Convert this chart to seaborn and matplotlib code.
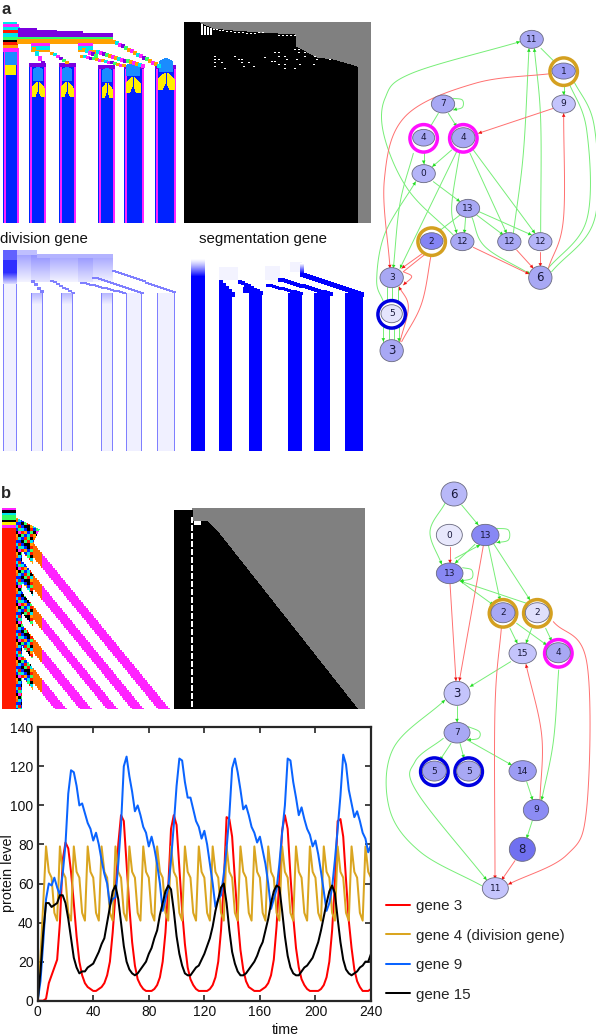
"""
plot.py - developmental simulation figure: lineage rasters, gene networks, protein levels
"""

import numpy as np
import pandas as pd
import matplotlib
matplotlib.use("Agg")
import matplotlib.pyplot as plt
from matplotlib.colors import ListedColormap, LinearSegmentedColormap
from matplotlib.patches import Ellipse, Polygon
import seaborn as sns

W, H = 596, 1035

# ─── Protein levels (sampled every 2 time units) ──────────────────────────────

TIME = list(range(0, 242, 2))
GENE_3 = [0, 0, 0, 1, 9, 13, 17, 21, 40, 72, 81, 78, 66, 50, 33, 20, 13, 9, 7, 6,
          5, 5, 6, 7, 9, 13, 20, 35, 55, 80, 95, 92, 70, 48, 30, 18, 11, 8, 6, 5,
          5, 5, 6, 8, 12, 20, 35, 58, 88, 95, 90, 68, 46, 29, 17, 11, 8, 6, 5, 5,
          5, 5, 6, 8, 12, 20, 36, 60, 94, 93, 84, 62, 42, 26, 16, 10, 7, 6, 5, 5,
          5, 6, 7, 9, 13, 21, 38, 62, 87, 95, 88, 64, 43, 27, 17, 11, 8, 6, 5, 5,
          5, 5, 6, 8, 12, 20, 36, 60, 92, 93, 84, 62, 41, 27, 16, 10, 7, 5, 5, 5, 6]
GENE_4 = [0, 22, 50, 79, 66, 63, 45, 41] + [
    79, 66, 63, 45, 41, 79, 66, 63, 45, 41, 79, 66, 63, 45, 41, 79, 66, 63, 45, 41,
    79, 66, 63, 45, 41, 79, 66, 63, 45, 41, 79, 66, 63, 45, 41, 79, 66, 63, 45, 41,
    79, 66, 63, 45, 41, 79, 66, 63, 45, 41, 79, 66, 63, 45, 41, 79, 66, 63, 45, 41,
    79, 66, 63, 45, 41, 79, 66, 63, 45, 41, 79, 66, 63, 45, 41, 79, 66, 63, 45, 41,
    79, 66, 63, 45, 41, 79, 66, 63, 45, 41, 79, 66, 63, 45, 41, 79, 66, 63, 45, 41,
    79, 66, 63, 45, 41, 79, 66, 63, 45, 41, 79, 66, 63]
GENE_9 = [0, 10, 30, 52, 60, 59, 63, 58, 54, 65, 80, 106, 118, 117, 110, 100, 101, 96, 91, 88,
          82, 86, 80, 72, 65, 60, 49, 52, 53, 70, 90, 120, 125, 115, 107, 97, 100, 95, 89, 86,
          79, 84, 78, 70, 60, 46, 52, 58, 72, 90, 110, 124, 123, 112, 104, 104, 98, 92, 89, 83,
          87, 80, 70, 60, 48, 52, 54, 65, 78, 95, 119, 124, 117, 108, 98, 100, 95, 89, 86, 81,
          84, 77, 70, 60, 47, 52, 57, 70, 86, 100, 124, 123, 112, 104, 95, 99, 93, 88, 85, 79,
          82, 75, 66, 56, 46, 50, 58, 72, 88, 105, 126, 121, 108, 101, 94, 97, 92, 86, 83, 76, 80]
GENE_15 = [0, 15, 35, 50, 50, 48, 49, 50, 54, 54, 50, 42, 32, 22, 17, 14, 15, 15, 17, 18,
           19, 22, 25, 29, 32, 40, 48, 56, 59, 52, 40, 28, 20, 16, 14, 13, 14, 16, 18, 20,
           24, 27, 32, 36, 44, 50, 56, 59, 57, 46, 33, 24, 18, 14, 13, 13, 15, 17, 18, 21,
           24, 28, 32, 38, 46, 52, 58, 60, 50, 36, 25, 19, 15, 13, 13, 14, 16, 18, 20, 23,
           27, 30, 36, 42, 50, 56, 59, 58, 46, 33, 23, 17, 14, 13, 13, 15, 17, 18, 20, 22,
           26, 30, 36, 43, 50, 56, 59, 55, 42, 30, 21, 16, 14, 13, 14, 15, 17, 18, 20, 20, 24]
GENE_NAMES = ["gene 3", "gene 4 (division gene)", "gene 9", "gene 15"]
GENE_COLORS = ["#ff0000", "#daa520", "#0a64ff", "#000000"]
X_TICKS = [0, 40, 80, 120, 160, 200, 240]
Y_TICKS = [0, 20, 40, 60, 80, 100, 120, 140]

# ─── Panel a, lineage rasters (picture pixels) ────────────────────────────────

# left, right of the cell columns in the top-left raster
A_COLUMNS = [(3, 19), (29, 46), (59, 76), (98, 115), (124, 144), (155, 176)]
A_COLUMN_TOPS = [48, 63, 63, 65, 65, 65]
# centre, top, bottom, half width of the yellow arches
A_ARCHES = [(38, 82, 97, 6), (67, 82, 97, 6), (107, 83, 98, 5), (133, 77, 93, 7), (166, 73, 90, 8)]
# top stack: y0, y1, x1, colour index
A_STACK = [(22, 24, 17, 5), (24, 27, 19, 2), (27, 30, 20, 5), (30, 33, 19, 9), (33, 37, 18, 5),
           (37, 40, 18, 8), (40, 42, 18, 10), (42, 45, 18, 9), (45, 48, 18, 7)]
# purple steps: x0, x1, y0
A_STEPS = [(18, 37, 28), (37, 57, 30), (57, 83, 31), (83, 113, 33)]
# start and end of the diagonal tracts: x0, y0, x1, y1, thickness
A_TRACTS = [(112, 40, 158, 65, 4), (93, 50, 143, 65, 4), (80, 55, 123, 65, 3), (50, 52, 68, 63, 3),
            (32, 47, 42, 63, 5), (82, 48, 95, 55, 4)]
A_TRACT_COLORS = [7, 5, 2, 6, 8, 7, 2]
# x of the dots in the grey/black raster, with their y
A_DOTS_X = [214, 214, 214, 214, 218, 221, 224, 234, 238, 241, 241, 243, 248, 253, 264, 271, 274, 274,
            278, 278, 278, 284, 284, 284, 286, 294, 296, 299, 313, 294, 298, 298, 304, 304, 314, 316, 329]
A_DOTS_Y = [56, 59, 62, 66, 59, 62, 68, 56, 59, 59, 62, 66, 62, 66, 57, 61, 61, 52,
            52, 56, 64, 56, 64, 68, 59, 68, 59, 64, 64, 49, 49, 52, 52, 56, 56, 59, 59]
A_EDGE_X = [184, 200, 201, 213, 233, 260, 295, 296, 307, 317, 333, 357, 358, 371]
A_EDGE_Y = [23, 23, 24, 29, 31, 33, 35, 47, 53, 58, 60, 67, 224, 224]
A_BARS_X = [201, 204, 207, 210, 213, 216, 219, 222, 226, 230, 234, 238, 242, 246, 250, 254, 258, 262,
            278, 282, 286, 290, 294]
A_BARS_Y = [24, 26, 27, 28, 29, 29, 30, 30, 31, 31, 32, 32, 32, 33, 33, 33, 32, 32,
            35, 35, 35, 35, 35]

DIV_COLUMNS = [(3, 17), (31, 43), (61, 73), (101, 113), (126, 142), (157, 175)]
SEG_COLUMNS = [(191, 205), (219, 232), (249, 262), (288, 302), (314, 330), (345, 363)]
# x0, y0, x1, y1, thickness of the expression tracts
DIV_TRACTS = [(112, 270, 175, 293, 2), (92, 277, 142, 293, 2), (80, 282, 125, 293, 2), (50, 280, 72, 293, 2),
              (31, 280, 42, 293, 3)]
SEG_TRACTS = [(300, 272, 363, 293, 5), (278, 278, 330, 293, 4), (266, 284, 302, 293, 3), (238, 280, 262, 293, 4),
              (219, 280, 232, 293, 5)]
# left, right, y at the left, y at the right of the slanted column tops
SEG_WEDGES = [(219, 232, 283, 293), (243, 262, 287, 293)]
SEG_PALE = [(219, 238, 267, 280), (265, 280, 266, 280), (290, 302, 262, 272)]

# ─── Panel b rasters ──────────────────────────────────────────────────────────

B_STACK = [(508, 510, 16, 2), (510, 513, 16, 10), (513, 515, 16, 5), (515, 520, 16, 8),
           (520, 522, 16, 10), (522, 525, 16, 4), (525, 528, 16, 2)]
# x at the bottom edge of the magenta bands
B_BAND_LEFT = [55, 80, 107, 132, 158]
B_BAND_RIGHT = [67, 92, 118, 144, 170]
B_TILE = [[1, 10, 8, 9, 5, 1],
          [9, 1, 10, 10, 7, 5],
          [8, 5, 1, 10, 9, 1],
          [2, 9, 7, 1, 8, 10],
          [10, 8, 1, 5, 9, 7],
          [5, 1, 9, 8, 10, 11]]
B_EDGE_X = [174, 192, 193, 207, 220, 358, 366]
B_EDGE_Y = [510, 510, 521, 521, 535, 710, 710]

# ─── Networks (coordinates of the two network drawings) ───────────────────────

A_NODE_LABELS = ["11", "1", "9", "7", "4", "4", "0", "13", "2", "12", "12", "12", "3", "6", "5", "3"]
A_NODE_X = [470, 566, 566, 204, 146, 265, 146, 279, 170, 262, 403, 496, 50, 496, 50, 50]
A_NODE_Y = [58, 155, 252, 252, 355, 355, 461, 565, 665, 665, 665, 665, 773, 773, 883, 992]
A_NODE_RX = [35, 35, 35, 35, 33, 35, 35, 35, 34, 35, 35, 35, 35, 35, 32, 35]
A_NODE_RY = [27, 24, 27, 27, 25, 30, 27, 27, 25, 27, 27, 27, 30, 35, 27, 33]
A_NODE_FILL = ["#a8a8f4", "#9c9cf4", "#c4c4fc", "#a8a8f4", "#a8a8f4", "#a8a8f4", "#b4b4f8", "#a8a8f4",
               "#8484f4", "#a8a8f4", "#a8a8f4", "#b4b4f8", "#a8a8f4", "#a8a8f4", "#e4e4fc", "#a8a8f4"]
A_RINGS = {1: "#d4a020", 4: "#ff10ff", 5: "#ff10ff", 8: "#d4a020", 14: "#0000e0"}
A_GREEN = [
    [(235, 645), (100, 510), (28, 350), (30, 235), (110, 160), (435, 65)],
    [(498, 85), (545, 132)], [(566, 180), (566, 225)],
    [(515, 750), (635, 600), (635, 330), (578, 180)],
    [(530, 755), (658, 600), (658, 320), (592, 175)],
    [(415, 640), (445, 400), (462, 85)], [(497, 640), (497, 300), (478, 85)],
    [(235, 235), (262, 240), (262, 262), (235, 270)],
    [(190, 280), (160, 330)], [(220, 280), (245, 320)], [(146, 385), (146, 432)],
    [(115, 400), (75, 550), (55, 745)], [(230, 390), (172, 440)], [(245, 395), (75, 745)],
    [(255, 390), (230, 560), (245, 640)], [(285, 400), (395, 640)], [(295, 390), (480, 640)],
    [(175, 485), (255, 545)], [(255, 585), (190, 635)], [(272, 590), (268, 640)],
    [(305, 585), (385, 645)], [(312, 575), (470, 645)], [(290, 590), (330, 680), (465, 762)],
    [(25, 845), (5, 780), (30, 640), (122, 485)],
    [(35, 800), (35, 855)], [(50, 800), (50, 855)], [(68, 800), (68, 855)],
    [(25, 915), (25, 965)], [(42, 965), (42, 915)], [(58, 965), (58, 915)], [(72, 915), (72, 965)],
]
A_RED = [
    [(535, 160), (300, 190), (90, 290), (28, 480), (45, 745)],
    [(535, 265), (310, 340)], [(150, 695), (80, 745)], [(85, 755), (160, 695)],
    [(85, 755), (110, 770), (85, 795)], [(80, 965), (140, 850), (170, 695)],
    [(75, 965), (100, 860), (72, 800)], [(295, 682), (462, 762)], [(425, 690), (475, 745)],
    [(496, 695), (496, 740)], [(520, 745), (565, 600), (566, 280)],
]

B_NODE_LABELS = ["6", "0", "13", "13", "2", "2", "15", "4", "3", "7", "5", "5", "14", "9", "8", "11"]
B_NODE_X = [222, 208, 316, 209, 369, 472, 428, 535, 231, 231, 163, 266, 428, 468, 427, 346]
B_NODE_Y = [57, 180, 180, 295, 415, 415, 535, 535, 655, 773, 890, 890, 888, 1005, 1123, 1240]
B_NODE_RX = [39, 39, 41, 40, 36, 36, 41, 36, 39, 39, 36, 36, 41, 38, 39, 39]
B_NODE_RY = [36, 32, 32, 31, 30, 30, 31, 30, 36, 31, 30, 30, 31, 32, 36, 32]
B_NODE_FILL = ["#b8b8f8", "#e8e8fc", "#8888f4", "#8888f4", "#a8a8f4", "#e0e0fc", "#c4c4fc", "#a8a8f4",
               "#c4c4fc", "#a8a8f4", "#a0a0f4", "#a8a8f4", "#9c9cf4", "#8c8cf4", "#7070f0", "#c4c4fc"]
B_RINGS = {4: "#d4a020", 5: "#d4a020", 7: "#ff10ff", 10: "#0000e0", 11: "#0000e0"}
B_GREEN = [
    [(195, 85), (150, 170), (185, 268)], [(245, 90), (295, 150)],
    [(350, 160), (385, 165), (385, 195), (350, 203)], [(285, 208), (225, 265)], [(225, 250), (300, 210)],
    [(248, 278), (275, 285), (275, 310), (240, 318)], [(250, 325), (340, 390)], [(440, 385), (240, 318)],
    [(325, 210), (360, 375)], [(340, 205), (450, 375)], [(390, 460), (412, 505)], [(455, 460), (438, 505)],
    [(410, 445), (500, 510)], [(497, 460), (515, 498)], [(392, 560), (270, 635)], [(231, 692), (231, 742)],
    [(265, 755), (298, 770), (295, 790), (262, 795)], [(213, 805), (180, 855)], [(240, 805), (252, 850)],
    [(262, 795), (395, 870)], [(190, 790), (105, 860), (110, 950), (320, 1215)], [(440, 920), (458, 975)],
    [(536, 585), (520, 800), (485, 975)], [(457, 1037), (440, 1090)],
    [(305, 1232), (120, 1130), (28, 1000), (40, 820), (195, 675)],
]
B_RED = [
    [(210, 215), (210, 265)], [(210, 325), (228, 618)], [(310, 212), (238, 618)],
    [(480, 975), (485, 780), (438, 568)], [(365, 448), (345, 700), (345, 1212)],
    [(520, 440), (620, 560), (620, 1000), (560, 1140), (385, 1228)], [(405, 1157), (365, 1215)],
]

RASTER_COLORS = ["#ffffff", "#0022ff", "#ff22ff", "#1a8cff", "#ffee00", "#00e5ee", "#7a00e0",
                 "#ffa000", "#33ff66", "#ff1a00", "#000000", "#ff6a00"]
MASK_COLORS = ["#000000", "#808080", "#ffffff"]


# ─── Helpers ──────────────────────────────────────────────────────────────────

def panel_axes(fig, x0, y0, x1, y1):
    """Axes placed by picture pixels, y measured from the top."""
    return fig.add_axes([x0 / W, 1 - y1 / H, (x1 - x0) / W, (y1 - y0) / H])


def draw_grid(fig, grid, box, cmap, vmax):
    ax = panel_axes(fig, *box)
    sns.heatmap(grid, ax=ax, cmap=cmap, vmin=0, vmax=vmax, cbar=False,
                xticklabels=False, yticklabels=False, rasterized=True)
    return ax


def paint_tract(grid, box, tract, colors, cell=3):
    """Stepped diagonal line painted on a grid, colours taken in turn."""
    x0, y0, x1, y1, thick = tract
    for i, x in enumerate(range(x0, x1, cell)):
        y = int(y0 + (x - x0) * (y1 - y0) / (x1 - x0))
        val = colors[i % len(colors)]
        grid[y - box[1]:y - box[1] + thick, x - box[0]:x - box[0] + cell + 1] = val


def lineage_a(box):
    grid = np.zeros((box[3] - box[1], box[2] - box[0]), dtype=int)
    ox, oy = box[0], box[1]

    for (x0, x1), top in zip(A_COLUMNS, A_COLUMN_TOPS):
        grid[top - oy:, x0 - ox:x1 - ox] = 1
        grid[top - oy:, x0 - ox + 1:x0 - ox + 3] = 2
        grid[top - oy:, x1 - ox - 2:x1 - ox] = 2
        grid[top - oy:top - oy + 4, x0 - ox:x1 - ox] = 6

    grid[48 - oy:52 - oy, 3 - ox:19 - ox] = 2
    grid[52 - oy:65 - oy, 5 - ox:17 - ox] = 3
    grid[65 - oy:75 - oy, 5 - ox:16 - ox] = 4

    for (x0, x1), (cx, top, bottom, hw) in zip(A_COLUMNS[1:], A_ARCHES):
        # lighter cap filling the column down to the arch
        for y in range(top - 15, top - 1):
            inner = min((y - top + 16) * 2, (x1 - x0) // 2 - 3)
            grid[y - oy, cx - inner - ox:cx + inner - ox] = 3
        h = bottom - top
        for y in range(top, bottom):
            t = (y - top) / h
            half = hw * min(1, t * 2.2 + 0.25)
            notch = hw * 0.4 * max(0, (t - 0.6) * 2.5)
            grid[y - oy, int(cx - half) - ox:int(cx + half) - ox + 1] = 4
            grid[y - oy, int(cx - notch) - ox:int(cx + notch) - ox + 1] = 1

    for y0, y1, x1, val in A_STACK:
        grid[y0 - oy:y1 - oy, 3 - ox:x1 - ox] = val
    for x0, x1, y0 in A_STEPS:
        grid[y0 - oy:37 - oy, x0 - ox:x1 - ox] = 6
    grid[37 - oy:39 - oy, 18 - ox:113 - ox] = 8
    grid[39 - oy:44 - oy, 17 - ox:113 - ox] = 7
    for x0, x1 in [(31, 50), (78, 93)]:
        grid[43 - oy:50 - oy, x0 - ox:x1 - ox] = 5
        grid[43 - oy:46 - oy, x0 - ox:x1 - ox] = 2
        grid[50 - oy:52 - oy, x0 - ox:x1 - ox] = 7

    for tract in A_TRACTS:
        paint_tract(grid, box, tract, A_TRACT_COLORS)
    return grid


def mask_a(box):
    grid = np.zeros((box[3] - box[1], box[2] - box[0]), dtype=int)
    cols = np.arange(box[0], box[2])
    tops = np.interp(cols, A_EDGE_X, A_EDGE_Y).astype(int)
    for i, top in enumerate(tops):
        grid[:max(top - box[1], 0), i] = 1
    grid[:1, :16] = 0
    for x, y in zip(A_DOTS_X, A_DOTS_Y):
        grid[y - box[1]:y - box[1] + 1, x - box[0]:x - box[0] + 2] = 2
    for x, y in zip(A_BARS_X, A_BARS_Y):
        bar = 35 if x < 213 else y + 1
        grid[y - box[1]:bar - box[1], x - box[0]:x - box[0] + 2] = 2
    return grid


def division_grid(box):
    grid = np.zeros((box[3] - box[1], box[2] - box[0]))
    ox, oy = box[0], box[1]
    for x0, x1 in DIV_COLUMNS:
        grid[293 - oy:, x0 - ox:x1 - ox] = 0.06
        grid[293 - oy:, x0 - ox:x0 - ox + 1] = 0.5
        grid[293 - oy:, x1 - ox - 1:x1 - ox] = 0.5
    # pale band of the growing tip, fading downwards
    for y in range(255, 282):
        fade = 0.32 * (1 - (y - 255) / 27) + 0.04
        grid[y - oy, 17 - ox:113 - ox] = fade
        grid[y - oy, 31 - ox:50 - ox] = fade + 0.06
        grid[y - oy, 78 - ox:93 - ox] = fade + 0.06
    grid[250 - oy:255 - oy, 17 - ox:37 - ox] = 0.25
    grid[254 - oy:258 - oy, 37 - ox:113 - ox] = 0.3
    # strong expression in the first column
    for y in range(250, 284):
        if y < 260:
            val = 0.62
        elif y < 272:
            val = 0.82
        else:
            val = 0.82 - 0.72 * (y - 272) / 12
        grid[y - oy, 3 - ox:17 - ox] = val
    grid[284 - oy:, 3 - ox:17 - ox] = 0.06
    grid[284 - oy:, 3 - ox] = 0.5
    grid[284 - oy:, 16 - ox] = 0.5
    for tract in DIV_TRACTS:
        paint_tract(grid, box, tract, [0.5])
    # caps at the top of the columns, fading into the column
    for x0, x1 in DIV_COLUMNS[1:4]:
        for y in range(293, 305):
            grid[y - oy, x0 - ox + 1:x1 - ox - 1] = 0.28 - 0.02 * (y - 293)
    return grid


def segmentation_grid(box):
    grid = np.zeros((box[3] - box[1], box[2] - box[0]))
    ox, oy = box[0], box[1]
    for x0, x1 in SEG_COLUMNS:
        grid[293 - oy:, x0 - ox:x1 - ox] = 1.0
    for y in range(258, 278):
        grid[y - oy, 191 - ox:205 - ox] = min(1.0, ((y - 258) / 18) ** 1.3)
    grid[278 - oy:, 191 - ox:205 - ox] = 1.0
    for x0, x1, y0, y1 in SEG_PALE:
        grid[y0 - oy:y1 - oy, x0 - ox:x1 - ox] = 0.05
    for tract in SEG_TRACTS:
        paint_tract(grid, box, tract, [1.0])
    for x0, x1, y0, y1 in SEG_WEDGES:
        for x in range(x0, x1):
            top = int(y0 + (x - x0) * (y1 - y0) / (x1 - x0))
            grid[top - oy:293 - oy, x - ox] = 1.0
    for y in range(263, 274):
        grid[y - oy, 300 - ox:304 - ox] = (y - 263) / 10
    return grid


def lineage_b(box):
    grid = np.zeros((box[3] - box[1], box[2] - box[0]), dtype=int)
    ox, oy = box[0], box[1]
    slope = 0.82
    for y in range(box[1], box[3]):
        ys = y - y % 2
        for x in range(box[0], box[2]):
            u = x + slope * (709 - ys)
            in_band = any(a <= u < b for a, b in zip(B_BAND_LEFT, B_BAND_RIGHT))
            wide = any(a - 6 <= u < b for a, b in zip(B_BAND_LEFT, B_BAND_RIGHT))
            tile = B_TILE[(y // 3) % 6][(x // 3) % 6]
            if y < 527:
                continue
            if x < 16:
                grid[y - oy, x - ox] = 9
            elif x < 22:
                grid[y - oy, x - ox] = tile
            elif x < 33 and wide:
                grid[y - oy, x - ox] = tile
            elif in_band:
                grid[y - oy, x - ox] = 11 if x < 42 else 2
    for y0, y1, x1, val in B_STACK:
        grid[y0 - oy:y1 - oy, 2 - ox:x1 - ox] = val
    # messy rows right of the stack, narrowing upwards
    for y in range(517, 550):
        reach = 40 - abs(y - 528) // 2 if y > 528 else 16 + (y - 517) * 2
        for x in range(16, reach):
            grid[y - oy, x - ox] = B_TILE[(y // 3) % 6][(x // 3) % 6]
    return grid


def mask_b(box):
    grid = np.zeros((box[3] - box[1], box[2] - box[0]), dtype=int)
    cols = np.arange(box[0], box[2])
    tops = np.interp(cols, B_EDGE_X, B_EDGE_Y).astype(int)
    for i, top in enumerate(tops):
        grid[:max(top - box[1], 0), i] = 1
    grid[:2, :18] = 2
    for y in range(517, 709, 8):
        grid[y - box[1]:y - box[1] + 6, 191 - box[0]:193 - box[0]] = 2
    grid[13:17, 20:27] = 2
    return grid


def smooth(points, steps=24):
    """Catmull-Rom line through the picked waypoints of an edge."""
    pts = np.array(points, dtype=float)
    if len(pts) == 2:
        return pts
    full = np.vstack([2 * pts[0] - pts[1], pts, 2 * pts[-1] - pts[-2]])
    out = []
    for i in range(1, len(full) - 2):
        p0, p1, p2, p3 = full[i - 1:i + 3]
        for t in np.linspace(0, 1, steps):
            out.append(0.5 * (2 * p1 + (p2 - p0) * t + (2 * p0 - 5 * p1 + 4 * p2 - p3) * t ** 2
                              + (3 * p1 - p0 - 3 * p2 + p3) * t ** 3))
    return np.array(out)


def draw_network(ax, origin, labels, xs, ys, rxs, rys, fills, rings, green, red):
    to_px = lambda p: np.array(origin) + np.asarray(p) / 3

    for edges, line, head in ((green, "#77ee77", "#22dd22"), (red, "#ff7070", "#ee1111")):
        for points in edges:
            path = to_px(smooth(points))
            ax.plot(path[:, 0], path[:, 1], color=line, lw=0.7, zorder=2, solid_capstyle="round")
            tip = path[-1]
            d = tip - path[-2]
            d = d / np.hypot(*d)
            n = np.array([-d[1], d[0]])
            ax.add_patch(Polygon([tip, tip - 3.5 * d + 1.8 * n, tip - 3.5 * d - 1.8 * n],
                                 color=head, lw=0, zorder=3))

    for i, label in enumerate(labels):
        cx, cy = to_px((xs[i], ys[i]))
        rx, ry = rxs[i] / 3, rys[i] / 3
        big = label in ("6", "8") or (label == "3" and rys[i] >= 33)
        if i in rings:
            ax.add_patch(Ellipse((cx, cy), 27.5, 27.5, fc="white", ec=rings[i], lw=2.5, zorder=4))
            cy_node = cy - 0.6
        else:
            cy_node = cy
        ax.add_patch(Ellipse((cx, cy_node), 2 * rx, 2 * ry, fc=fills[i], ec="#6a6a80", lw=0.6, zorder=5))
        ax.text(cx, cy_node, label, ha="center", va="center", fontsize=8.5 if big else 6.5,
                family="DejaVu Sans", color="#18183a", zorder=6)


# ─── Figure ───────────────────────────────────────────────────────────────────

sns.set_style("ticks")
plt.rcParams["font.family"] = ["Liberation Sans", "DejaVu Sans"]

fig = plt.figure(figsize=(W / 100, H / 100), dpi=100)

raster_cmap = ListedColormap(RASTER_COLORS)
mask_cmap = ListedColormap(MASK_COLORS)
blue_cmap = LinearSegmentedColormap.from_list("expr", ["#ffffff", "#0000ff"])

box = (2, 21, 176, 223)
draw_grid(fig, lineage_a(box), box, raster_cmap, len(RASTER_COLORS) - 1)
box = (184, 22, 371, 223)
draw_grid(fig, mask_a(box), box, mask_cmap, 2)
box = (2, 250, 176, 451)
draw_grid(fig, division_grid(box), box, blue_cmap, 1)
box = (190, 250, 364, 451)
draw_grid(fig, segmentation_grid(box), box, blue_cmap, 1)
box = (2, 508, 171, 709)
draw_grid(fig, lineage_b(box), box, raster_cmap, len(RASTER_COLORS) - 1)
box = (174, 508, 365, 709)
draw_grid(fig, mask_b(box), box, mask_cmap, 2)

# protein level chart
levels = pd.DataFrame({
    "time": TIME * 4,
    "level": GENE_3 + GENE_4 + GENE_9 + GENE_15,
    "gene": [n for n in GENE_NAMES for _ in TIME],
})
ax = panel_axes(fig, 37.7, 727.3, 371, 1000.7)
sns.lineplot(data=levels, x="time", y="level", hue="gene", hue_order=GENE_NAMES, palette=GENE_COLORS,
             estimator=None, errorbar=None, lw=1.45, ax=ax)
ax.set_xlim(0, 240)
ax.set_ylim(0, 140)
ax.set_xticks(X_TICKS)
ax.set_yticks(Y_TICKS)
ax.tick_params(direction="in", length=4, width=1.1, top=True, right=True, labelsize=10, pad=3,
               colors="#111111")
ax.set_xlabel("time", fontsize=10.3, color="#111111")
ax.xaxis.set_label_coords(0.743, -0.08)
ax.set_ylabel("protein level", fontsize=10.3, color="#111111")
ax.yaxis.set_label_coords(-0.068, 0.465)
for spine in ax.spines.values():
    spine.set_linewidth(1.6)
    spine.set_visible(True)
handles, names = ax.get_legend_handles_labels()
ax.legend(handles, names, loc="upper left", bbox_to_anchor=(385.5 / W, 1 - 899 / H),
          bbox_transform=fig.transFigure, frameon=False, fontsize=10.9, handlelength=1.6,
          handletextpad=0.4, labelspacing=1.03, borderpad=0, borderaxespad=0)

# overlay in picture pixels for the networks and captions
overlay = fig.add_axes([0, 0, 1, 1], facecolor="none")
overlay.set_xlim(0, W)
overlay.set_ylim(H, 0)
overlay.axis("off")

draw_network(overlay, (375, 20), A_NODE_LABELS, A_NODE_X, A_NODE_Y, A_NODE_RX, A_NODE_RY,
             A_NODE_FILL, A_RINGS, A_GREEN, A_RED)
draw_network(overlay, (380, 475), B_NODE_LABELS, B_NODE_X, B_NODE_Y, B_NODE_RX, B_NODE_RY,
             B_NODE_FILL, B_RINGS, B_GREEN, B_RED)

overlay.text(1, 10, "a", fontsize=12, fontweight="bold", va="center", ha="left")
overlay.text(1, 493, "b", fontsize=12, fontweight="bold", va="center", ha="left")
overlay.text(0, 239, "division gene", fontsize=10.8, va="center", ha="left", color="#111111")
overlay.text(199, 239, "segmentation gene", fontsize=10.8, va="center", ha="left", color="#111111")

fig.savefig("out.png", dpi=100)
plt.close(fig)
